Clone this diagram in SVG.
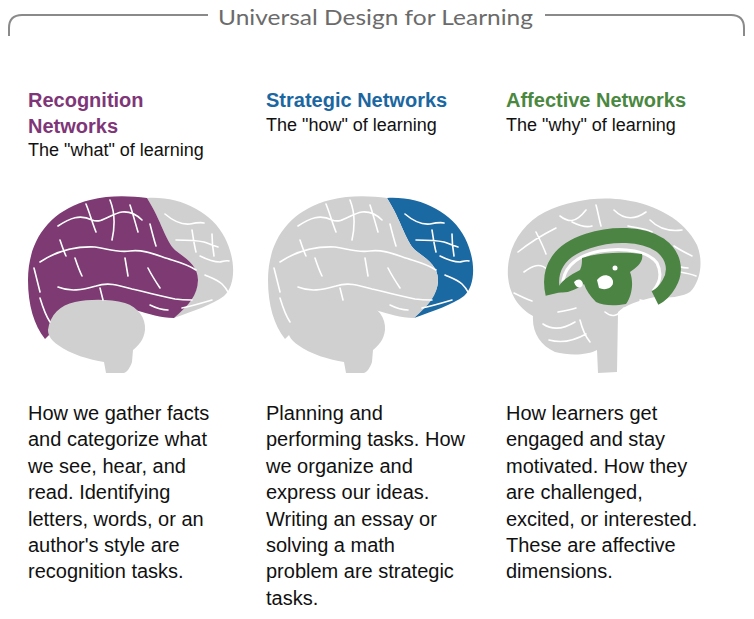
<svg xmlns="http://www.w3.org/2000/svg" xmlns:xlink="http://www.w3.org/1999/xlink" width="754" height="619" viewBox="0 0 754 619">
<style>
.hd{font-family:"Liberation Sans",Arial,sans-serif;font-weight:bold;font-size:20px}
.sub{font-family:"Liberation Sans",Arial,sans-serif;font-size:18px;fill:#111}
.body{font-family:"Liberation Sans",Arial,sans-serif;font-size:20px;fill:#111}
.sul{fill:none;stroke:#fff;stroke-width:1.6;stroke-linecap:round;stroke-linejoin:round}
.gray{fill:#d0d0d0}
</style>
<defs>
<path id="front" d="M147,198 C180,196 212,212 225,238 C236,260 236,285 224,296 C212,305 195,310 174,318 C186,306 198,295 198,280 C198,265 185,258 175,250 C165,240 162,222 147,198 Z"/>
<path id="back" d="M147,198 C162,222 165,240 175,250 C185,258 198,265 198,280 C198,295 188,306 174,318 C160,318 150,314 135,310 C110,306 85,308 75,315 C62,322 54,330 45,339 C34,325 28,305 28,280 C28,240 50,210 90,200 C110,195 130,196 147,198 Z"/>
<path id="cblm" d="M48,330 C50,315 60,305 75,302 C90,299 110,299 125,303 C138,307 146,318 145,330 C144,340 138,346 133,350 L132,362 C130,368 127,372 124,373 L106,373 L104,362 C90,360 70,354 58,345 C52,341 48,336 48,330 Z"/>
<path id="sulci" d="M40,262 C55,252 72,246 95,247 C108,249 118,253 130,251 C145,249 158,256 172,260 C182,263 190,266 196,270 M58,226 C70,218 80,214 92,220 C102,224 110,214 122,212 C132,211 138,216 142,220 M86,204 C90,214 92,222 96,232 M110,200 C114,210 116,222 112,240 M130,205 C133,214 135,222 138,232 M150,224 C152,232 154,240 156,246 M58,287 C70,292 82,290 96,286 C108,282 118,285 132,289 C146,292 160,296 175,299 C182,300 188,300 192,300 M40,298 C43,308 46,316 50,322 M34,268 C36,276 38,284 40,292 M75,258 C77,264 79,270 82,276 M125,258 C126,264 127,270 128,276 M100,288 C101,292 102,296 103,300 M60,240 C62,246 64,252 66,256 M148,268 C152,276 156,282 160,288 M165,214 C172,220 180,225 190,224 C195,223 200,222 204,223 M176,240 C185,240 195,240 204,242 C210,244 214,246 218,247 M200,256 C206,259 212,262 220,262 C224,261 227,260 229,261 M205,275 C212,278 218,280 222,284 C225,287 227,290 228,292 M192,230 C193,236 194,244 196,252 M212,234 C212,242 213,250 214,256 M182,308 C192,306 202,303 212,300 M150,305 C156,308 162,310 168,310"/>
</defs>

<g id="title">
<path d="M9,36 L9,28 Q9,15 22,15 L208,15 M545,15 L731,15 Q744,15 744,28 L744,36" fill="none" stroke="#8a8a8a" stroke-width="2"/>
<text x="218" y="25" font-family="Lato, 'Open Sans', sans-serif" font-size="22" fill="#6b6b6b" textLength="315" lengthAdjust="spacingAndGlyphs">Universal Design for Learning</text>
</g>

<g id="col-recognition">
<text class="hd" fill="#7f3678" x="28" y="107">Recognition</text>
<text class="hd" fill="#7f3678" x="28" y="133">Networks</text>
<text class="sub" x="28" y="156">The "what" of learning</text>
<g id="brain-recognition">
<use xlink:href="#front" fill="#d0d0d0"/>
<use xlink:href="#back" fill="#7d3a73"/>
<use xlink:href="#cblm" fill="#d0d0d0"/>
<use xlink:href="#sulci" class="sul"/>
</g>
<text class="body" x="28" y="420">How we gather facts</text>
<text class="body" x="28" y="446.4">and categorize what</text>
<text class="body" x="28" y="472.8">we see, hear, and</text>
<text class="body" x="28" y="499.2">read. Identifying</text>
<text class="body" x="28" y="525.6">letters, words, or an</text>
<text class="body" x="28" y="552">author's style are</text>
<text class="body" x="28" y="578.4">recognition tasks.</text>
</g>

<g id="col-strategic">
<text class="hd" fill="#1b67a1" x="266" y="107">Strategic Networks</text>
<text class="sub" x="266" y="131">The "how" of learning</text>
<g id="brain-strategic" transform="translate(240,0)">
<use xlink:href="#front" fill="#1b69a2"/>
<use xlink:href="#back" fill="#d0d0d0"/>
<use xlink:href="#cblm" fill="#d0d0d0"/>
<use xlink:href="#sulci" class="sul"/>
</g>
<text class="body" x="266" y="420">Planning and</text>
<text class="body" x="266" y="446.4">performing tasks. How</text>
<text class="body" x="266" y="472.8">we organize and</text>
<text class="body" x="266" y="499.2">express our ideas.</text>
<text class="body" x="266" y="525.6">Writing an essay or</text>
<text class="body" x="266" y="552">solving a math</text>
<text class="body" x="266" y="578.4">problem are strategic</text>
<text class="body" x="266" y="604.8">tasks.</text>
</g>

<g id="col-affective">
<text class="hd" fill="#4a883f" x="506" y="107">Affective Networks</text>
<text class="sub" x="506" y="131">The "why" of learning</text>
<g id="brain-affective">
<path class="gray" d="M508,277 C506,250 520,225 545,212 C570,200 600,196 625,200 C655,204 685,220 697,245 C704,262 700,282 690,292 C680,298 665,298 655,297 C640,300 625,305 618,312 L617,372 L598,373 L597,350 C588,355 570,356 555,352 C540,345 532,332 533,316 C522,310 510,298 508,277 Z"/>
<path class="sul" d="M518,252 C528,244 540,236 556,228 M524,272 C532,266 540,262 548,270 M560,216 C568,222 575,224 586,210 M596,205 C598,212 599,219 601,226 M614,210 C622,218 632,222 646,212 M650,220 C658,228 668,232 682,230 M674,246 C680,250 686,253 692,256 M680,272 C686,273 691,274 696,276 M514,293 C520,296 526,299 532,301 M543,324 C552,330 562,330 575,322 M549,340 C560,343 572,342 586,334 M558,312 C564,311 570,310 576,308 M580,320 C582,328 585,336 590,342 M536,232 C540,240 544,248 546,254 M670,262 C676,266 682,268 688,268 M572,222 C580,226 586,228 592,226 M628,226 C636,228 644,228 652,232 M605,312 C612,318 618,316 624,308 M640,300 C646,302 652,302 658,300"/>
<path d="M563,292 C560,270 574,256 600,251 C625,247 648,251 657,263 C662,273 660,283 653,291" fill="none" stroke="#fff" stroke-width="3"/>
<path d="M553,294 C547,268 560,250 588,241 C612,233 642,233 660,245 C674,255 677,271 669,284 C665,291 661,295 655,298" fill="none" stroke="#4b8443" stroke-width="15" stroke-linecap="butt"/>
<path fill="#4b8443" d="M582,258 C600,252 625,252 642,254 C644,262 636,268 630,272 C634,282 632,296 626,304 C615,306 604,306 596,302 C590,296 586,290 584,284 C576,290 566,294 558,292 C556,284 570,275 580,270 C582,266 582,262 582,258 Z"/>
<circle cx="615" cy="268" r="2.5" fill="#fff"/>
<path fill="#fff" d="M597,280 C602,273 611,274 613,281 C614,288 605,291 599,288 Z"/>
<path fill="#fff" d="M574,282 C578,278 582,279 583,284 C582,289 576,289 574,282 Z"/>
</g>
<text class="body" x="506" y="420">How learners get</text>
<text class="body" x="506" y="446.4">engaged and stay</text>
<text class="body" x="506" y="472.8">motivated. How they</text>
<text class="body" x="506" y="499.2">are challenged,</text>
<text class="body" x="506" y="525.6">excited, or interested.</text>
<text class="body" x="506" y="552">These are affective</text>
<text class="body" x="506" y="578.4">dimensions.</text>
</g>
</svg>
